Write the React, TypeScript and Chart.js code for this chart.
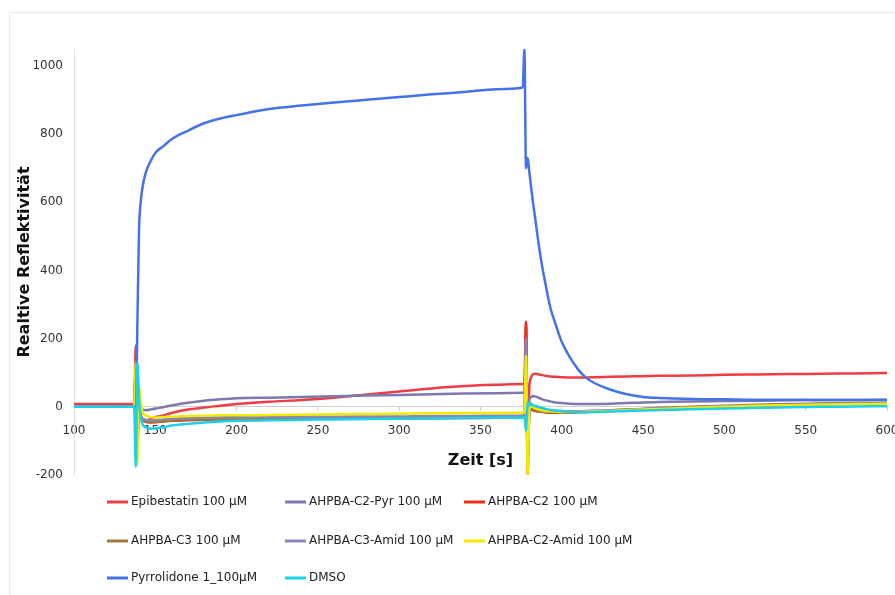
import React, { useEffect, useRef } from "react";
import { Chart, registerables } from "chart.js";

Chart.register(...registerables);

// time points [s]
const times = [100, 137, 138, 139, 140, 141, 142, 144, 147, 150, 155, 160, 170, 180, 190, 200, 220, 240, 260, 280, 300, 320, 340, 360, 376, 377, 378, 379, 380, 381, 382, 384, 386, 388, 390, 393, 396, 400, 405, 410, 415, 420, 430, 440, 450, 460, 480, 500, 520, 540, 560, 580, 600];

const epibestatin = [8, 8, 180, -60, -30, -35, -40, -42, -35, -30, -25, -18, -8, -2, 3, 8, 15, 20, 27, 36, 45, 54, 61, 65, 67, 70, 250, -150, 60, 85, 95, 97, 95, 93, 91, 89, 88, 87, 86, 86, 86, 87, 88, 89, 90, 91, 92, 94, 95, 96, 97, 98, 99];
const c2Pyr = [0, 0, 100, -80, -20, -10, -8, -10, -8, -5, -1, 4, 12, 18, 22, 25, 27, 29, 31, 33, 35, 37, 39, 40, 41, 42, 200, -120, 20, 28, 32, 30, 26, 22, 19, 16, 13, 11, 9, 8, 8, 8, 9, 11, 13, 14, 16, 17, 18, 19, 20, 20, 21];
const c2 = [0, 0, 120, -120, 10, -30, -38, -44, -46, -45, -43, -41, -39, -38, -37, -36, -36, -35, -35, -34, -34, -33, -33, -32, -32, -32, 250, -200, -20, -8, -10, -12, -14, -15, -16, -17, -17, -17, -17, -16, -15, -14, -12, -10, -7, -5, -2, 1, 4, 6, 8, 9, 10];
const c3 = [0, 0, 60, -100, 50, -20, -35, -42, -45, -44, -42, -40, -38, -37, -36, -36, -35, -35, -34, -34, -33, -33, -32, -32, -31, -31, 100, -150, -15, -5, -8, -10, -12, -14, -15, -16, -16, -16, -16, -15, -14, -13, -11, -8, -6, -3, 0, 3, 6, 8, 10, 11, 12];
const c3Amid = [0, 0, 60, -80, 0, -25, -33, -38, -40, -39, -37, -35, -33, -32, -31, -30, -30, -29, -29, -28, -28, -27, -27, -26, -26, -26, 200, -150, 0, 10, 5, 0, -4, -7, -9, -11, -12, -13, -13, -13, -12, -11, -10, -8, -6, -4, -1, 2, 4, 6, 8, 9, 10];
const c2Amid = [0, 0, 130, -170, 60, 20, -15, -25, -30, -31, -30, -29, -27, -26, -25, -25, -24, -23, -22, -21, -20, -19, -18, -18, -17, -17, 150, -200, -10, 5, 0, -5, -8, -10, -12, -13, -14, -15, -15, -15, -14, -13, -12, -10, -8, -6, -3, 0, 3, 5, 7, 8, 9];
const pyrrolidone = [0, 0, -20, 250, 520, 600, 640, 685, 720, 745, 765, 785, 810, 832, 846, 856, 874, 884, 893, 901, 909, 917, 924, 932, 937, 1050, 700, 730, 690, 650, 610, 540, 470, 410, 360, 290, 245, 190, 145, 110, 85, 70, 50, 37, 29, 26, 23, 22, 21, 21, 20, 20, 20];
const dmso = [0, 0, -175, 130, 20, -30, -50, -60, -64, -63, -60, -55, -50, -46, -43, -41, -39, -38, -37, -36, -35, -34, -33, -32, -31, -30, -70, 15, 5, 8, 5, 2, 0, -3, -6, -9, -11, -13, -15, -16, -16, -15, -14, -12, -11, -9, -7, -5, -3, -1, 0, 1, 2];

const seriesNames = [
  "Epibestatin 100 µM",
  "AHPBA-C2-Pyr 100 µM",
  "AHPBA-C2 100 µM",
  "AHPBA-C3 100 µM",
  "AHPBA-C3-Amid 100 µM",
  "AHPBA-C2-Amid 100 µM",
  "Pyrrolidone 1_100µM",
  "DMSO",
];
const seriesValues = [epibestatin, c2Pyr, c2, c3, c3Amid, c2Amid, pyrrolidone, dmso];
const seriesColors = ["#ee3d45", "#7c78b0", "#e8301c", "#a07a3a", "#8a86b5", "#f2ea00", "#4472e8", "#1ccfec"];

const yTicks = { min: -200, max: 1050, step: 200 };
const xTicks = { min: 100, max: 600, step: 50 };

const gridLegend = {
  id: "gridLegend",
  afterDraw(chart: any) {
    const ctx = chart.ctx;
    const cols = [107, 285, 464];
    const rows = [502, 541, 578];
    chart.data.datasets.forEach((ds: any, i: number) => {
      const x = cols[i % 3];
      const y = rows[Math.floor(i / 3)];
      ctx.save();
      ctx.strokeStyle = ds.borderColor;
      ctx.lineWidth = 3;
      ctx.beginPath();
      ctx.moveTo(x, y);
      ctx.lineTo(x + 21, y);
      ctx.stroke();
      ctx.fillStyle = "#222";
      ctx.font = '12px "DejaVu Sans"';
      ctx.textBaseline = "middle";
      ctx.textAlign = "left";
      ctx.fillText(ds.label, x + 24, y);
      ctx.restore();
    });
  },
};

export default function App() {
  const ref = useRef<HTMLCanvasElement | null>(null);
  useEffect(() => {
    if (!ref.current) return;
    const n = seriesNames.length;
    const chart = new Chart(ref.current, {
      type: "line",
      data: {
        datasets: seriesNames.map((name, i) => ({
          label: name,
          data: times.map((t, k) => ({ x: t, y: seriesValues[i][k] })),
          borderColor: seriesColors[i],
          backgroundColor: seriesColors[i],
          borderWidth: 2.5,
          pointRadius: 0,
          cubicInterpolationMode: "monotone" as const,
          order: n - i,
        })),
      },
      options: {
        animation: false,
        responsive: false,
        maintainAspectRatio: false,
        layout: { padding: { left: 0, top: 49, right: 8, bottom: 120 } },
        plugins: { legend: { display: false }, tooltip: { enabled: false } },
        scales: {
          x: {
            type: "linear",
            position: { y: 0 } as any,
            min: xTicks.min,
            max: xTicks.max,
            afterFit: (s: any) => {
              s.paddingLeft = 0;
              s.paddingRight = 0;
            },
            ticks: {
              stepSize: xTicks.step,
              padding: 13,
              color: "#333",
              font: { family: "DejaVu Sans", size: 12 },
              maxRotation: 0,
              callback: (v: any) => String(v),
            },
            grid: { drawOnChartArea: false, drawTicks: true, tickLength: 4, tickColor: "#cfcfcf" },
            border: { display: true, color: "#cfcfcf", width: 1 },
            title: {
              display: true,
              text: "Zeit [s]",
              color: "#111",
              font: { family: "DejaVu Sans", size: 16, weight: "bold" },
              padding: { top: 0, bottom: 0 },
            },
          },
          y: {
            type: "linear",
            min: yTicks.min,
            max: yTicks.max,
            afterFit: (s: any) => {
              s.width = 74;
            },
            ticks: {
              stepSize: yTicks.step,
              includeBounds: false,
              padding: 11,
              color: "#333",
              font: { family: "DejaVu Sans", size: 12 },
              callback: (v: any) => String(v),
            },
            grid: { drawOnChartArea: false, drawTicks: false },
            border: { display: true, color: "#e0e0e0", width: 1 },
            title: {
              display: true,
              text: "Realtive Reflektivität",
              color: "#111",
              font: { family: "DejaVu Sans", size: 16, weight: "bold" },
              padding: { top: 15, bottom: 0 },
            },
          },
        },
      },
      plugins: [gridLegend],
    });
    return () => chart.destroy();
  }, []);

  return (
    <div style={{ position: "fixed", left: 0, top: 0, width: 895, height: 595, background: "#fff" }}>
      <div
        style={{
          position: "absolute",
          left: 9,
          top: 12,
          width: 886,
          height: 583,
          borderLeft: "1px solid #ececec",
          borderTop: "1px solid #ececec",
        }}
      />
      <canvas ref={ref} width={895} height={595} style={{ position: "absolute", left: 0, top: 0 }} />
    </div>
  );
}
